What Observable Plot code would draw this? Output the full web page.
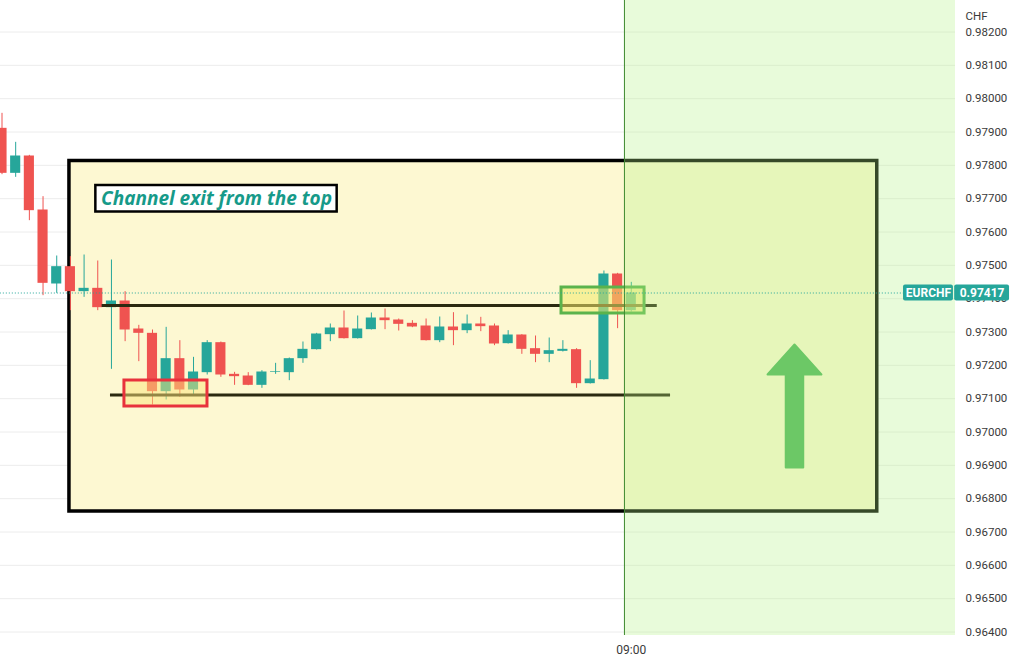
<!DOCTYPE html>
<html><head><meta charset="utf-8">
<script src="https://cdn.jsdelivr.net/npm/d3@7"></script>
<script src="https://cdn.jsdelivr.net/npm/@observablehq/plot@0.6"></script>
<style>html,body{margin:0;padding:0;background:#fff;overflow:hidden}</style>
</head><body><div id="chart"></div>
<script>
// ---- data (EURCHF candles, bar index 0..46; bar 46 = 09:00) ----
const bars = d3.range(47);
const open  = [0.97911,0.97776,0.97828,0.97666,0.97444,0.97496,0.97421,0.97431,0.97373,0.97393,
               0.97309,0.97296,0.97121,0.97220,0.97126,0.97178,0.97268,0.97173,0.97168,0.97140,
               0.97179,0.97178,0.97220,0.97247,0.97292,0.97312,0.97280,0.97307,0.97342,0.97336,
               0.97326,0.97318,0.97274,0.97315,0.97304,0.97324,0.97318,0.97265,0.97291,0.97250,
               0.97233,0.97242,0.97247,0.97145,0.97157,0.97474,0.97364];
const high  = [0.97956,0.97869,0.97830,0.97706,0.97528,0.97526,0.97531,0.97513,0.97516,0.97421,
               0.97320,0.97306,0.97314,0.97274,0.97224,0.97274,0.97270,0.97179,0.97178,0.97184,
               0.97206,0.97222,0.97270,0.97296,0.97324,0.97363,0.97348,0.97357,0.97369,0.97339,
               0.97334,0.97339,0.97345,0.97358,0.97351,0.97344,0.97324,0.97304,0.97292,0.97288,
               0.97282,0.97274,0.97250,0.97214,0.97483,0.97476,0.97449];
const low   = [0.97772,0.97764,0.97634,0.97409,0.97416,0.97364,0.97404,0.97364,0.97188,0.97271,
               0.97211,0.97081,0.97096,0.97104,0.97111,0.97171,0.97164,0.97140,0.97139,0.97131,
               0.97173,0.97154,0.97206,0.97246,0.97271,0.97279,0.97279,0.97306,0.97307,0.97303,
               0.97313,0.97273,0.97268,0.97259,0.97295,0.97301,0.97259,0.97264,0.97233,0.97208,
               0.97208,0.97240,0.97131,0.97144,0.97156,0.97310,0.97360];
const close = [0.97776,0.97828,0.97664,0.97446,0.97496,0.97421,0.97431,0.97373,0.97393,0.97306,
               0.97296,0.97121,0.97220,0.97126,0.97180,0.97268,0.97171,0.97166,0.97140,0.97180,
               0.97181,0.97220,0.97248,0.97294,0.97312,0.97280,0.97309,0.97342,0.97334,0.97323,
               0.97315,0.97274,0.97315,0.97304,0.97324,0.97316,0.97264,0.97291,0.97248,0.97233,
               0.97244,0.97248,0.97145,0.97159,0.97474,0.97364,0.97417];
const priceTicks = d3.range(964, 983).map(v => v / 1000);
const timeTicks = [46];
const timeLabels = ["09:00"];
const symbol = "EURCHF";
const currency = "CHF";
const lastPrice = 0.97417;
const annotationText = "Channel exit from the top";

// ---- annotations (in bar-index / price units) ----
const channelBox = {x1: 4.93, x2: 63.98, y1: 0.97813, y2: 0.967615};
const channelLines = [
  {price: 0.973795, from: 7.32, to: 47.9},
  {price: 0.97111,  from: 7.93, to: 48.87}
];
const redBox   = {x1: 8.95, x2: 15.02, y1: 0.971545, y2: 0.970765};
const greenBox = {x1: 40.9, x2: 46.97, y1: 0.974335, y2: 0.973555};
const greenZone = {x1: 45.5, x2: 80, y1: 0.95, y2: 0.99};
const labelBox = {x1: 6.86, x2: 24.5, y1: 0.977395, y2: 0.9766};
const arrowX = 57.93, arrowHalfHead = 1.97, arrowHalfShaft = 0.64;
const arrowTip = 0.972625, arrowNeck = 0.971725, arrowTail = 0.968935;
const arrowPts = [
  [arrowX - arrowHalfShaft, arrowTail], [arrowX - arrowHalfShaft, arrowNeck],
  [arrowX - arrowHalfHead, arrowNeck], [arrowX, arrowTip],
  [arrowX + arrowHalfHead, arrowNeck], [arrowX + arrowHalfShaft, arrowNeck],
  [arrowX + arrowHalfShaft, arrowTail]
];

const UP = "#26a69a", DOWN = "#ef5350";
const col = i => close[i] >= open[i] ? UP : DOWN;
const fmt = d3.format(".5f");

const chart = Plot.plot({
  width: 1016, height: 657,
  marginLeft: 0, marginRight: 61, marginTop: 0, marginBottom: 22,
  x: {type: "linear", domain: [-0.11, 69.7], axis: null},
  y: {domain: [0.963895, 0.982945], axis: null},
  style: {fontFamily: "Roboto, 'Noto Sans', sans-serif", fontSize: "11px", background: "#fff", overflow: "visible"},
  marks: [
    Plot.ruleY(priceTicks, {stroke: "#ececec", strokeWidth: 1}),
    Plot.rect([channelBox], {x1: "x1", x2: "x2", y1: "y1", y2: "y2", fill: "#fdf8d2"}),
    Plot.rect([channelBox], {x1: "x1", x2: "x2", y1: "y1", y2: "y2", fill: "none", stroke: "#000", strokeWidth: 3.5}),
    Plot.ruleX(bars, {x: i => i, y1: i => low[i], y2: i => high[i], stroke: col, strokeWidth: 1, clip: true}),
    Plot.rect(bars, {x1: i => i - 0.37, x2: i => i + 0.37, y1: i => open[i], y2: i => close[i], fill: col, clip: true}),
    Plot.ruleY(channelLines, {y: "price", x1: "from", x2: "to", stroke: "#2b2910", strokeWidth: 3}),
    Plot.rect([redBox], {x1: "x1", x2: "x2", y1: "y1", y2: "y2", fill: "#fbe37a", fillOpacity: 0.5, stroke: "#e8323c", strokeWidth: 3}),
    Plot.rect([greenBox], {x1: "x1", x2: "x2", y1: "y1", y2: "y2", fill: "#f3e96a", fillOpacity: 0.55, stroke: "#5bb34c", strokeWidth: 3}),
    Plot.rect([greenZone], {x1: "x1", x2: "x2", y1: "y1", y2: "y2", fill: "#b2f386", fillOpacity: 0.3, clip: true}),
    Plot.ruleX([greenZone.x1], {stroke: "#3f8a30", strokeWidth: 1}),
    Plot.line(arrowPts, {x: d => d[0], y: d => d[1], curve: "linear-closed", fill: "#6cc866", stroke: "#6cc866", strokeWidth: 2, strokeLinejoin: "round"}),
    Plot.rect([labelBox], {x1: "x1", x2: "x2", y1: "y1", y2: "y2", fill: "#fff", stroke: "#000", strokeWidth: 2.5}),
    Plot.text([annotationText], {x: (labelBox.x1 + labelBox.x2) / 2, y: (labelBox.y1 + labelBox.y2) / 2, text: d => d,
      fill: "#169a89", fontSize: 19, fontWeight: "bold", fontStyle: "italic", fontFamily: "'Open Sans', sans-serif"}),
    Plot.ruleY([lastPrice], {x1: -1, x2: 65.9, stroke: UP, strokeDasharray: "1 2", strokeWidth: 1}),
    Plot.text(priceTicks, {frameAnchor: "right", y: d => d, text: fmt, dx: 10, textAnchor: "start", fill: "#3a3a3a", fontSize: 11.5}),
    Plot.rect([0], {x1: 69.72, x2: 76, y1: 0.96382, y2: 0.9630, fill: "#fff"}),
    Plot.text([currency], {frameAnchor: "top-right", dx: 10, dy: 11, textAnchor: "start", fill: "#3a3a3a", fontSize: 11.5}),
    Plot.text(timeTicks, {x: d => d, frameAnchor: "bottom", dy: 18, text: (d, i) => timeLabels[i], fill: "#3a3a3a", fontSize: 12}),
    Plot.rect([lastPrice], {x1: 65.9, x2: 69.55, y1: d => d + 0.00024, y2: d => d - 0.00024, fill: UP, rx: 2}),
    Plot.rect([lastPrice], {x1: 69.64, x2: 73.65, y1: d => d + 0.00024, y2: d => d - 0.00024, fill: UP, rx: 2}),
    Plot.text([symbol], {x: (65.9 + 69.55) / 2, y: lastPrice, text: d => d, fill: "#fff", fontSize: 12, fontWeight: "bold"}),
    Plot.text([lastPrice], {x: (69.64 + 73.65) / 2, y: d => d, text: fmt, fill: "#fff", fontSize: 12, fontWeight: "bold"})
  ]
});
document.getElementById("chart").appendChild(chart);
</script>
</body></html>
